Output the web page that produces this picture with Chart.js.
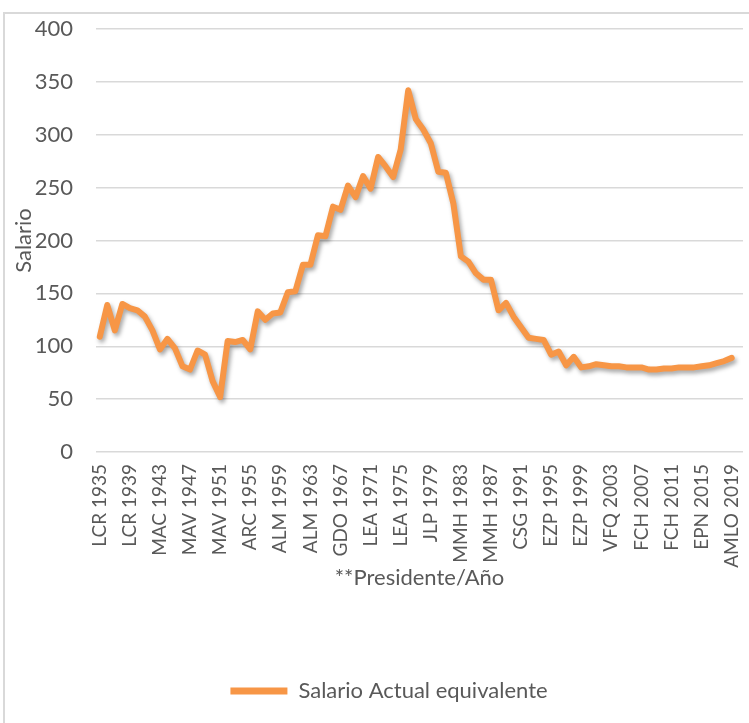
<!DOCTYPE html>
<html>
<head>
<meta charset="utf-8">
<script src="https://cdn.jsdelivr.net/npm/chart.js@4.4.1/dist/chart.umd.min.js"></script>
<style>
  html, body { margin: 0; padding: 0; background: #fff; }
  #wrap { position: relative; width: 749px; height: 723px; overflow: hidden; }
  #frame { position: absolute; left: 3px; top: 12px; width: 800px; height: 800px;
           border-left: 2px solid #d9d9d9; border-top: 2px solid #d9d9d9; }
  #c { position: absolute; left: 0; top: 0; }
</style>
</head>
<body>
<div id="wrap">
  <div id="frame"></div>
  <canvas id="c" width="749" height="723"></canvas>
</div>
<script>
// presidente por año (1935-2020)
const presidentes = [
    ['LCR', 1935, 1940], ['MAC', 1941, 1946], ['MAV', 1947, 1952], ['ARC', 1953, 1958],
    ['ALM', 1959, 1964], ['GDO', 1965, 1970], ['LEA', 1971, 1976], ['JLP', 1977, 1982],
    ['MMH', 1983, 1988], ['CSG', 1989, 1994], ['EZP', 1995, 2000], ['VFQ', 2001, 2006],
    ['FCH', 2007, 2012], ['EPN', 2013, 2018], ['AMLO', 2019, 2020]
];

const labels = [];
presidentes.forEach(p => {
    for (let y = p[1]; y <= p[2]; y++) labels.push(p[0] + ' ' + y);
});

// Salario Actual equivalente, 1935 -> 2019 (2020 vacío)
const salario = [
    109, 139, 115, 140, 136, 134, 128, 115, 97, 107,   // 1935-1944
    98, 81, 78, 96, 92, 67, 52, 105, 104, 106,         // 1945-1954
    97, 133, 125, 131, 132, 151, 152, 177, 177, 205,   // 1955-1964
    204, 232, 229, 252, 241, 261, 249, 279, 270, 260,  // 1965-1974
    286, 342, 315, 305, 292, 265, 264, 235, 185, 180,  // 1975-1984
    169, 163, 163, 134, 141, 128, 118, 108, 107, 106,  // 1985-1994
    92, 95, 82, 90, 80, 81, 83, 82, 81, 81,            // 1995-2004
    80, 80, 80, 78, 78, 79, 79, 80, 80, 80,            // 2005-2014
    81, 82, 84, 86, 89, null                           // 2015-2020
];

const yTicks = [0, 50, 100, 150, 200, 250, 300, 350, 400];

const textColor = '#595959';
const fontFam = 'Lato, "Open Sans", sans-serif';

// sombra suave de la línea (como en Excel)
const shadowPlugin = {
    id: 'lineShadow',
    beforeDatasetsDraw(chart) {
        const ctx = chart.ctx;
        ctx.save();
        ctx.shadowColor = 'rgba(0,0,0,0.35)';
        ctx.shadowBlur = 4;
        ctx.shadowOffsetX = 2;
        ctx.shadowOffsetY = 3;
    },
    afterDatasetsDraw(chart) {
        chart.ctx.restore();
    }
};

// la leyenda está un poco a la derecha en el original
const legendShift = {
    id: 'legendShift',
    afterLayout(chart) {
        if (!chart.legend) return;
        chart.legend.left += 16;
        chart.legend.right += 16;
    }
};

new Chart(document.getElementById('c').getContext('2d'), {
    type: 'line',
    data: {
        labels: labels,
        datasets: [{
            label: 'Salario Actual equivalente',
            data: salario,
            borderColor: '#F79646',
            backgroundColor: '#F79646',
            borderWidth: 6,
            pointRadius: 0,
            tension: 0,
            borderJoinStyle: 'round',
            borderCapStyle: 'round'
        }]
    },
    options: {
        responsive: false,
        animation: false,
        devicePixelRatio: 1,
        layout: { padding: { left: 3, right: 6, top: 29, bottom: 11 } },
        plugins: {
            tooltip: { enabled: false },
            legend: {
                position: 'bottom',
                labels: {
                    color: textColor,
                    font: { family: fontFam, size: 22 },
                    boxWidth: 57,
                    boxHeight: 7,
                    padding: 10,
                    generateLabels(chart) {
                        return Chart.defaults.plugins.legend.labels.generateLabels(chart).map(l => {
                            l.lineWidth = 0;
                            l.fillStyle = '#F79646';
                            return l;
                        });
                    }
                }
            }
        },
        scales: {
            x: {
                offset: true,
                grid: { display: false, drawTicks: false },
                border: { display: false },
                ticks: {
                    color: textColor,
                    font: { family: fontFam, size: 19 },
                    autoSkip: false,
                    maxRotation: 90,
                    minRotation: 90,
                    padding: 12,
                    callback: function(val, i) { return i % 4 === 0 ? labels[i] : ''; }
                },
                title: {
                    display: true,
                    text: '**Presidente/Año',
                    color: textColor,
                    font: { family: fontFam, size: 22 },
                    padding: { top: 8, bottom: 79 }
                },
                afterFit(s) { s.height = 218; s.paddingLeft = 0; s.paddingRight = 0; }
            },
            y: {
                min: 0,
                max: 400,
                afterBuildTicks(s) { s.ticks = yTicks.map(v => ({ value: v })); },
                grid: { color: '#d9d9d9', lineWidth: 1.5, drawTicks: false },
                border: { display: false },
                ticks: {
                    color: textColor,
                    font: { family: fontFam, size: 22 },
                    padding: 23
                },
                title: {
                    display: true,
                    text: 'Salario',
                    color: textColor,
                    font: { family: fontFam, size: 22 },
                    padding: { top: 8, bottom: 0 }
                },
                afterFit(s) { s.width = 93; s.paddingTop = 0; s.paddingBottom = 0; }
            }
        }
    },
    plugins: [shadowPlugin, legendShift]
});
</script>
</body>
</html>
